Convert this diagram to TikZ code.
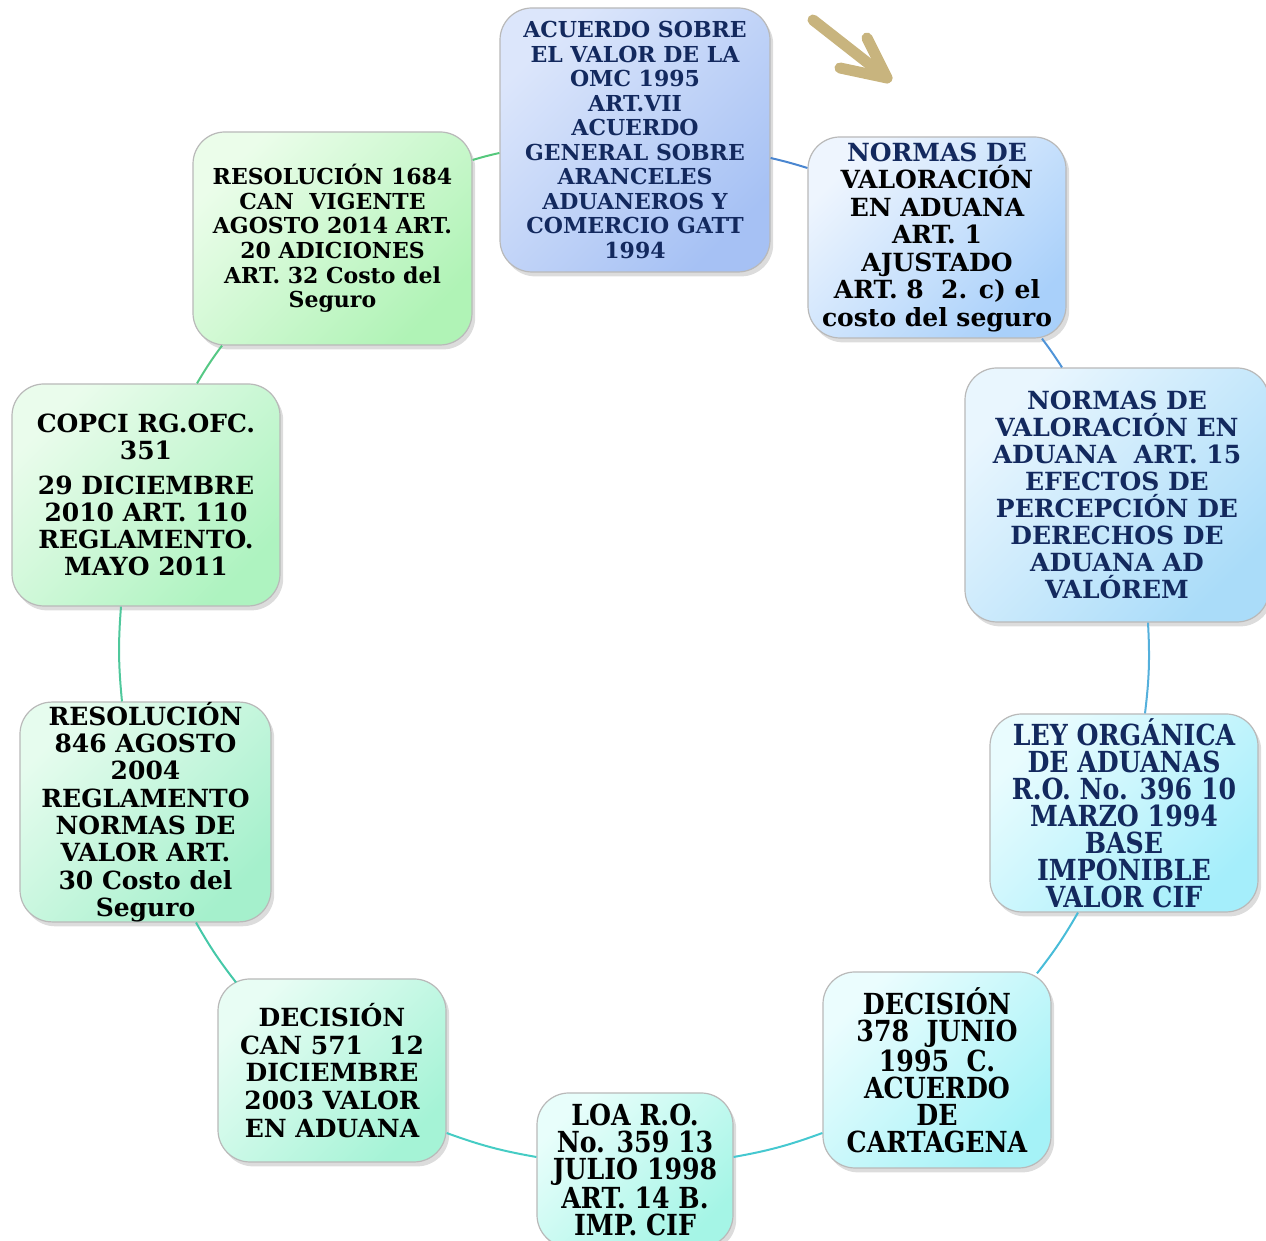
\documentclass[tikz,border=0pt]{standalone}
\usepackage{fontspec}
\setmainfont{DejaVu Serif}
\newfontfamily\narrowserif{DejaVu Serif}[FakeStretch=0.87]
\usetikzlibrary{shadows}

\definecolor{navytext}{HTML}{13295E}
\definecolor{arrowtan}{HTML}{C8B47E}
% box tints: light corner / deep corner
\definecolor{omcL}{HTML}{DCE6FB}   \definecolor{omcD}{HTML}{A6C1F4}
\definecolor{nvaL}{HTML}{EEF5FE}   \definecolor{nvaD}{HTML}{A9D0FA}
\definecolor{nvqL}{HTML}{E9F6FE}   \definecolor{nvqD}{HTML}{AADCF9}
\definecolor{lodaL}{HTML}{E9FCFE}  \definecolor{lodaD}{HTML}{A5EEFB}
\definecolor{decL}{HTML}{EBFDFE}   \definecolor{decD}{HTML}{A5F2F7}
\definecolor{loaL}{HTML}{E8FEFB}   \definecolor{loaD}{HTML}{A5F5E6}
\definecolor{canL}{HTML}{E8FDF4}   \definecolor{canD}{HTML}{A5F3D6}
\definecolor{resL}{HTML}{E6FCEE}   \definecolor{resD}{HTML}{A5F0CC}
\definecolor{copciL}{HTML}{EAFCEC} \definecolor{copciD}{HTML}{AEF3C0}
\definecolor{rcanL}{HTML}{EBFDEA}  \definecolor{rcanD}{HTML}{B0F3B6}
% connector colours, blue at the top turning to green on the left
\definecolor{cA}{HTML}{4A86D0}
\definecolor{cB}{HTML}{4F94D8}
\definecolor{cC}{HTML}{55B0DC}
\definecolor{cD}{HTML}{48BCD8}
\definecolor{cE}{HTML}{45C8D0}
\definecolor{cF}{HTML}{45CCC4}
\definecolor{cG}{HTML}{45C8A8}
\definecolor{cH}{HTML}{50C89C}
\definecolor{cI}{HTML}{55C884}
\definecolor{cJ}{HTML}{55C87C}

\begin{document}
\begin{tikzpicture}[
  x=0.5pt, y=0.5pt,
  box/.style={draw=gray!55, line width=0.6pt, rounded corners=16pt,
              align=center, inner sep=1pt,
              drop shadow={shadow xshift=1.6pt, shadow yshift=-2.2pt,
                           opacity=0.28}},
  tint/.style={box, top color=#1L, bottom color=#1D, shading angle=45},
  link/.style={line width=1pt},
  tanarrow/.style={draw=arrowtan, line width=5.5pt, line cap=round,
                   line join=round},
]
\useasboundingbox (0,0) rectangle (1266,1241);

% ============ boxes on the circle (clockwise from the top) ============
\node[tint=omc, text=navytext,
      minimum width=135pt, minimum height=132pt,
      font={\fontsize{11}{12.25}\selectfont\bfseries}] (omc) at (635,1101)
  {ACUERDO SOBRE\\EL VALOR DE LA\\OMC 1995\\ART.VII\\ACUERDO\\
   GENERAL SOBRE\\ARANCELES\\ADUANEROS Y\\COMERCIO GATT\\1994};

\node[tint=nva,
      minimum width=129pt, minimum height=100.5pt,
      font={\fontsize{12.5}{13.75}\selectfont\bfseries}] (nva) at (937,1003.5)
  {{\color{navytext}NORMAS DE}\\VALORACIÓN\\EN ADUANA\\ART. 1\\AJUSTADO\\
   ART. 8~~2. c) el\\costo del seguro};

\node[tint=nvq, text=navytext,
      minimum width=152pt, minimum height=127pt,
      font={\fontsize{12.5}{13.5}\selectfont\bfseries}] (nvq) at (1117,746)
  {NORMAS DE\\VALORACIÓN EN\\ADUANA~~ART. 15\\EFECTOS DE\\PERCEPCIÓN DE\\
   DERECHOS DE\\ADUANA AD\\VALÓREM};

\node[tint=loda, text=navytext,
      minimum width=134pt, minimum height=99pt,
      font={\narrowserif\fontsize{14.5}{13.5}\selectfont\bfseries}] (loda) at (1124,428)
  {LEY ORGÁNICA\\DE ADUANAS\\R.O. No. 396 10\\MARZO 1994\\BASE\\
   IMPONIBLE\\VALOR CIF};

\node[tint=dec,
      minimum width=114pt, minimum height=98pt,
      font={\narrowserif\fontsize{14.5}{13.5}\selectfont\bfseries}] (dec) at (937,171)
  {DECISIÓN\\378~~JUNIO\\1995~~C.\\ACUERDO\\DE\\CARTAGENA};

\node[tint=loa,
      minimum width=98pt, minimum height=77pt,
      font={\narrowserif\fontsize{14.5}{13.5}\selectfont\bfseries}] (loa) at (635,71)
  {LOA R.O.\\No. 359 13\\JULIO 1998\\ART. 14 B.\\IMP. CIF};

\node[tint=can,
      minimum width=114pt, minimum height=91.5pt,
      font={\fontsize{12.5}{13.85}\selectfont\bfseries}] (can) at (332,170.5)
  {DECISIÓN\\CAN 571~~~12\\DICIEMBRE\\2003 VALOR\\EN ADUANA};

\node[tint=res,
      minimum width=125.5pt, minimum height=108pt, inner sep=0pt,
      font={\fontsize{12.5}{13.65}\selectfont\bfseries}] (res) at (145.5,429)
  {RESOLUCIÓN\\846 AGOSTO\\2004\\REGLAMENTO\\NORMAS DE\\VALOR ART.\\
   30 Costo del\\Seguro};

\node[tint=copci,
      minimum width=134pt, minimum height=111pt,
      font={\fontsize{12.5}{13.5}\selectfont\bfseries}] (copci) at (146,746)
  {COPCI RG.OFC.\\351\\[4pt]29 DICIEMBRE\\2010 ART. 110\\REGLAMENTO.\\
   MAYO 2011};

\node[tint=rcan,
      minimum width=139.5pt, minimum height=106.5pt,
      font={\fontsize{11}{12.3}\selectfont\bfseries}] (rcan) at (332.5,1002.5)
  {RESOLUCIÓN 1684\\CAN~~VIGENTE\\AGOSTO 2014 ART.\\20 ADICIONES\\
   ART. 32 Costo del\\Seguro};

% ============ arcs of the circle ============
\draw[link, cA] ([yshift=-9pt]omc.east) to[bend left=2]
  ([yshift=34.75pt]nva.west);
\draw[link, cB] ([xshift=52.5pt]nva.south) to[bend left=2]
  ([xshift=-27.5pt]nvq.north);
\draw[link, cC] ([xshift=15.5pt]nvq.south) to[bend left=5]
  ([xshift=10.5pt]loda.north);
\draw[link, cD] ([xshift=-23pt]loda.south) to[bend left=4]
  ([xshift=50pt, yshift=-1pt]dec.north);
\draw[link, cE] ([yshift=-31.5pt]dec.west) to[bend left=5]
  ([yshift=6.5pt]loa.east);
\draw[link, cF] ([yshift=6.5pt]loa.west) to[bend left=5]
  ([yshift=-31.25pt]can.east);
\draw[link, cG] ([xshift=-48pt, yshift=-2pt]can.north) to[bend left=4]
  ([xshift=25.25pt]res.south);
\draw[link, cH] ([xshift=-11.75pt]res.north) to[bend left=5]
  ([xshift=-12.5pt]copci.south);
\draw[link, cI] ([xshift=25.5pt]copci.north) to[bend left=3]
  ([xshift=-55.25pt]rcan.south);
\draw[link, cJ] ([yshift=39.25pt]rcan.east) to[bend left=2]
  ([yshift=-6.5pt]omc.west);

% ============ direction arrow (top right) ============
\coordinate (tail) at (813,1221);
\coordinate (tip) at (887,1163);
\coordinate (barbup) at (867,1203);
\coordinate (barblow) at (840,1173);
\draw[tanarrow] (tail) -- (tip);
\draw[tanarrow] (barbup) -- (tip) -- (barblow);

\end{tikzpicture}
\end{document}
